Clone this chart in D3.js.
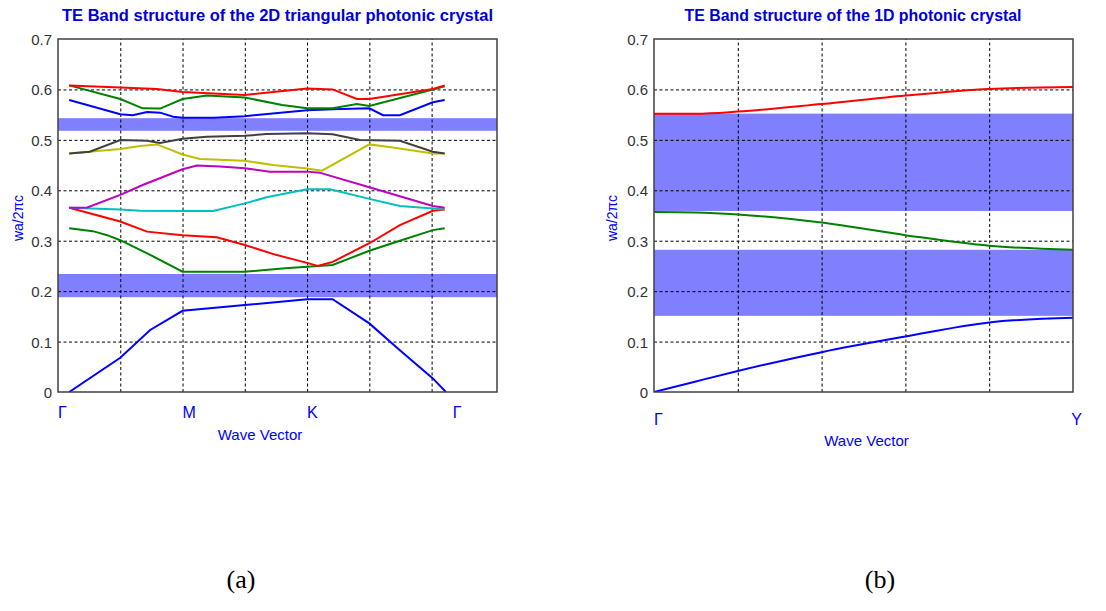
<!DOCTYPE html>
<html>
<head>
<meta charset="utf-8">
<script src="https://cdn.jsdelivr.net/npm/d3@7"></script>
<style>
  body { margin: 0; background: #fff; }
  text { font-family: "Liberation Sans", Arial, sans-serif; }
  text.caption { font-family: "Liberation Serif", "Times New Roman", serif; }
</style>
</head>
<body>
<div id="chart"></div>
<script>
/* Two band-structure panels: 2D triangular (a) and 1D (b) photonic crystals */

// --- data ---
// left panel, each band is a list of [k, w a / 2 pi c]
const bandsA = [
  [[0.18,0],[1,0.068],[1.48,0.123],[2,0.161],[3,0.1725],[4,0.184],[4.41,0.184],[5,0.136],[5.49,0.083],[6.02,0.027],[6.23,0]],
  [[0.18,0.3245],[0.56,0.319],[0.79,0.311],[1,0.301],[1.48,0.272],[2,0.2386],[3,0.2386],[3.6,0.245],[4,0.2485],[4.41,0.252],[5,0.28],[5.49,0.3],[6.02,0.321],[6.21,0.3245]],
  [[0.18,0.3655],[1,0.338],[1.43,0.318],[2,0.311],[2.55,0.307],[3,0.2915],[3.5,0.272],[4,0.256],[4.17,0.25],[4.41,0.258],[5,0.295],[5.49,0.331],[6.02,0.3595],[6.21,0.362]],
  [[0.18,0.3655],[1,0.362],[1.32,0.3595],[2,0.359],[2.49,0.359],[3,0.374],[3.35,0.386],[4,0.402],[4.37,0.402],[5,0.383],[5.49,0.369],[6.02,0.364],[6.21,0.362]],
  [[0.18,0.3655],[0.47,0.366],[1,0.391],[1.36,0.4105],[2,0.4416],[2.23,0.449],[2.6,0.447],[3,0.4435],[3.4,0.437],[4,0.437],[4.2,0.435],[5,0.406],[6.02,0.369],[6.21,0.3655]],
  [[0.18,0.473],[1,0.482],[1.32,0.488],[1.59,0.491],[2,0.471],[2.28,0.462],[3,0.4587],[3.45,0.45],[4,0.443],[4.24,0.439],[5,0.491],[5.38,0.485],[6.02,0.473],[6.21,0.473]],
  [[0.18,0.473],[0.51,0.4765],[1,0.4997],[1.43,0.498],[1.64,0.494],[2,0.502],[2.39,0.506],[3,0.508],[3.35,0.5116],[4,0.513],[4.41,0.511],[4.85,0.4997],[5.49,0.498],[6.02,0.4765],[6.21,0.473]],
  [[0.18,0.579],[1,0.551],[1.2,0.549],[1.43,0.555],[1.64,0.554],[1.85,0.546],[2,0.544],[2.5,0.544],[3,0.547],[4,0.5585],[4.41,0.5605],[5,0.5625],[5.22,0.549],[5.49,0.549],[6.02,0.5745],[6.21,0.579]],
  [[0.18,0.608],[1,0.581],[1.36,0.5625],[1.64,0.562],[2,0.581],[2.39,0.588],[3,0.584],[3.6,0.569],[4,0.5625],[4.41,0.5625],[4.8,0.571],[5,0.567],[6.02,0.6],[6.21,0.606]],
  [[0.18,0.608],[1,0.604],[1.59,0.601],[2,0.595],[3,0.589],[4,0.602],[4.41,0.6],[4.8,0.581],[5,0.581],[6.02,0.601],[6.21,0.608]]
];
const gapsA = [[0.188, 0.234], [0.518, 0.543]];
const symA = [["Γ", 0], ["M", 2], ["K", 4], ["Γ", 6.34]];

// right panel
const kB = [0, 0.5, 1, 2, 3, 4, 5];
const bandsB = [
  [0, 0.021, 0.0416, 0.079, 0.11, 0.138, 0.147],
  [0.357, 0.356, 0.352, 0.336, 0.311, 0.29, 0.282],
  [0.552, 0.552, 0.556, 0.571, 0.588, 0.601, 0.605]
];
const gapsB = [[0.151, 0.282], [0.359, 0.552]];
const symB = [["Γ", 0], ["Y", 4.98]];

const yTicks = [0, 0.1, 0.2, 0.3, 0.4, 0.5, 0.6, 0.7];
// matlab colour order b g r c m y k
const colors = ["#0000ff", "#008000", "#ff0000", "#00bfbf", "#bf00bf", "#bfbf00", "#404040"];

const width = 1106, height = 611;

let svg = d3.select("#chart")
    .append("svg")
    .attr("width", width)
    .attr("height", height);

function panel(opt) {
    let x = d3.scaleLinear().domain(opt.xDomain).range([opt.left, opt.right]);
    let y = d3.scaleLinear().domain([0, 0.7]).range([392, 39]);
    let g = svg.append("g");

    g.append("clipPath").attr("id", opt.id)
      .append("rect")
        .attr("x", opt.left).attr("y", 39)
        .attr("width", opt.right - opt.left).attr("height", 353);

    // photonic band gaps
    g.selectAll(".gap")
      .data(opt.gaps)
      .join("rect")
        .attr("x", opt.left)
        .attr("width", opt.right - opt.left)
        .attr("y", d => y(d[1]))
        .attr("height", d => y(d[0]) - y(d[1]))
        .attr("fill", "#8080ff");

    // grid
    g.append("g")
        .attr("transform", `translate(0,392)`)
        .call(d3.axisBottom(x).tickValues(opt.grid).tickSize(-353).tickFormat(""))
        .call(a => a.select(".domain").remove())
        .call(a => a.selectAll("line").attr("stroke", "#000").attr("stroke-dasharray", "3,2.5"));
    g.append("g")
        .attr("transform", `translate(${opt.left},0)`)
        .call(d3.axisLeft(y).tickValues(yTicks.slice(1, -1)).tickSize(-(opt.right - opt.left)).tickFormat(""))
        .call(a => a.select(".domain").remove())
        .call(a => a.selectAll("line").attr("stroke", "#000").attr("stroke-dasharray", "3,2.5"));

    // bands
    let line = d3.line().x(d => x(d[0])).y(d => y(d[1])).curve(opt.curve);
    g.append("g").attr("clip-path", `url(#${opt.id})`)
      .selectAll("path")
      .data(opt.bands)
      .join("path")
        .attr("d", line)
        .attr("fill", "none")
        .attr("stroke", (d, i) => colors[i % colors.length])
        .attr("stroke-width", 2);

    // box
    g.append("rect")
        .attr("x", opt.left).attr("y", 39)
        .attr("width", opt.right - opt.left).attr("height", 353)
        .attr("fill", "none").attr("stroke", "#404040").attr("stroke-width", 1.5);

    // y tick labels
    g.selectAll(".ytl")
      .data(yTicks)
      .join("text")
        .attr("x", opt.left - 6)
        .attr("y", d => y(d) + 6)
        .attr("text-anchor", "end")
        .attr("font-size", 15)
        .attr("fill", "#333")
        .text(d => d);

    // symmetry points
    g.selectAll(".sym")
      .data(opt.sym)
      .join("text")
        .attr("x", d => x(d[1]))
        .attr("y", opt.symY)
        .attr("font-size", 16)
        .attr("fill", "#0000ff")
        .text(d => d[0]);

    g.append("text")
        .attr("x", (opt.left + opt.right) / 2 + opt.xlabDx)
        .attr("y", opt.xlabY)
        .attr("text-anchor", "middle")
        .attr("font-size", 15)
        .attr("fill", "#0000ff")
        .text("Wave Vector");

    g.append("text")
        .attr("transform", `translate(${opt.ylabX},218) rotate(-90)`)
        .attr("text-anchor", "middle")
        .attr("font-size", 14)
        .attr("fill", "#0000ff")
        .text("wa/2πc");

    g.append("text")
        .attr("x", opt.titleX)
        .attr("y", 21)
        .attr("text-anchor", "middle")
        .attr("font-size", 17)
        .attr("font-weight", "bold")
        .attr("fill", "#0000dd")
        .attr("textLength", opt.titleLen)
        .attr("lengthAdjust", "spacingAndGlyphs")
        .text(opt.title);

    svg.append("text")
        .attr("class", "caption")
        .attr("x", opt.capX)
        .attr("y", 588)
        .attr("text-anchor", "middle")
        .attr("font-size", 26)
        .text(opt.caption);
}

panel({
    id: "clipA", left: 58, right: 497, xDomain: [0, 7.05], grid: [1, 2, 3, 4, 5, 6],
    bands: bandsA, gaps: gapsA, sym: symA, symY: 418, xlabY: 440, xlabDx: -17.5,
    ylabX: 23, curve: d3.curveLinear,
    title: "TE Band structure of the 2D triangular photonic crystal", titleX: 277.5, titleLen: 431,
    caption: "(a)", capX: 241
});

panel({
    id: "clipB", left: 654, right: 1073, xDomain: [0, 5], grid: [1, 2, 3, 4],
    bands: bandsB.map(v => v.map((f, i) => [kB[i], f])), gaps: gapsB, sym: symB, symY: 425,
    xlabY: 446, xlabDx: 3, ylabX: 617, curve: d3.curveMonotoneX,
    title: "TE Band structure of the 1D photonic crystal", titleX: 853, titleLen: 337,
    caption: "(b)", capX: 880
});
</script>
</body>
</html>
